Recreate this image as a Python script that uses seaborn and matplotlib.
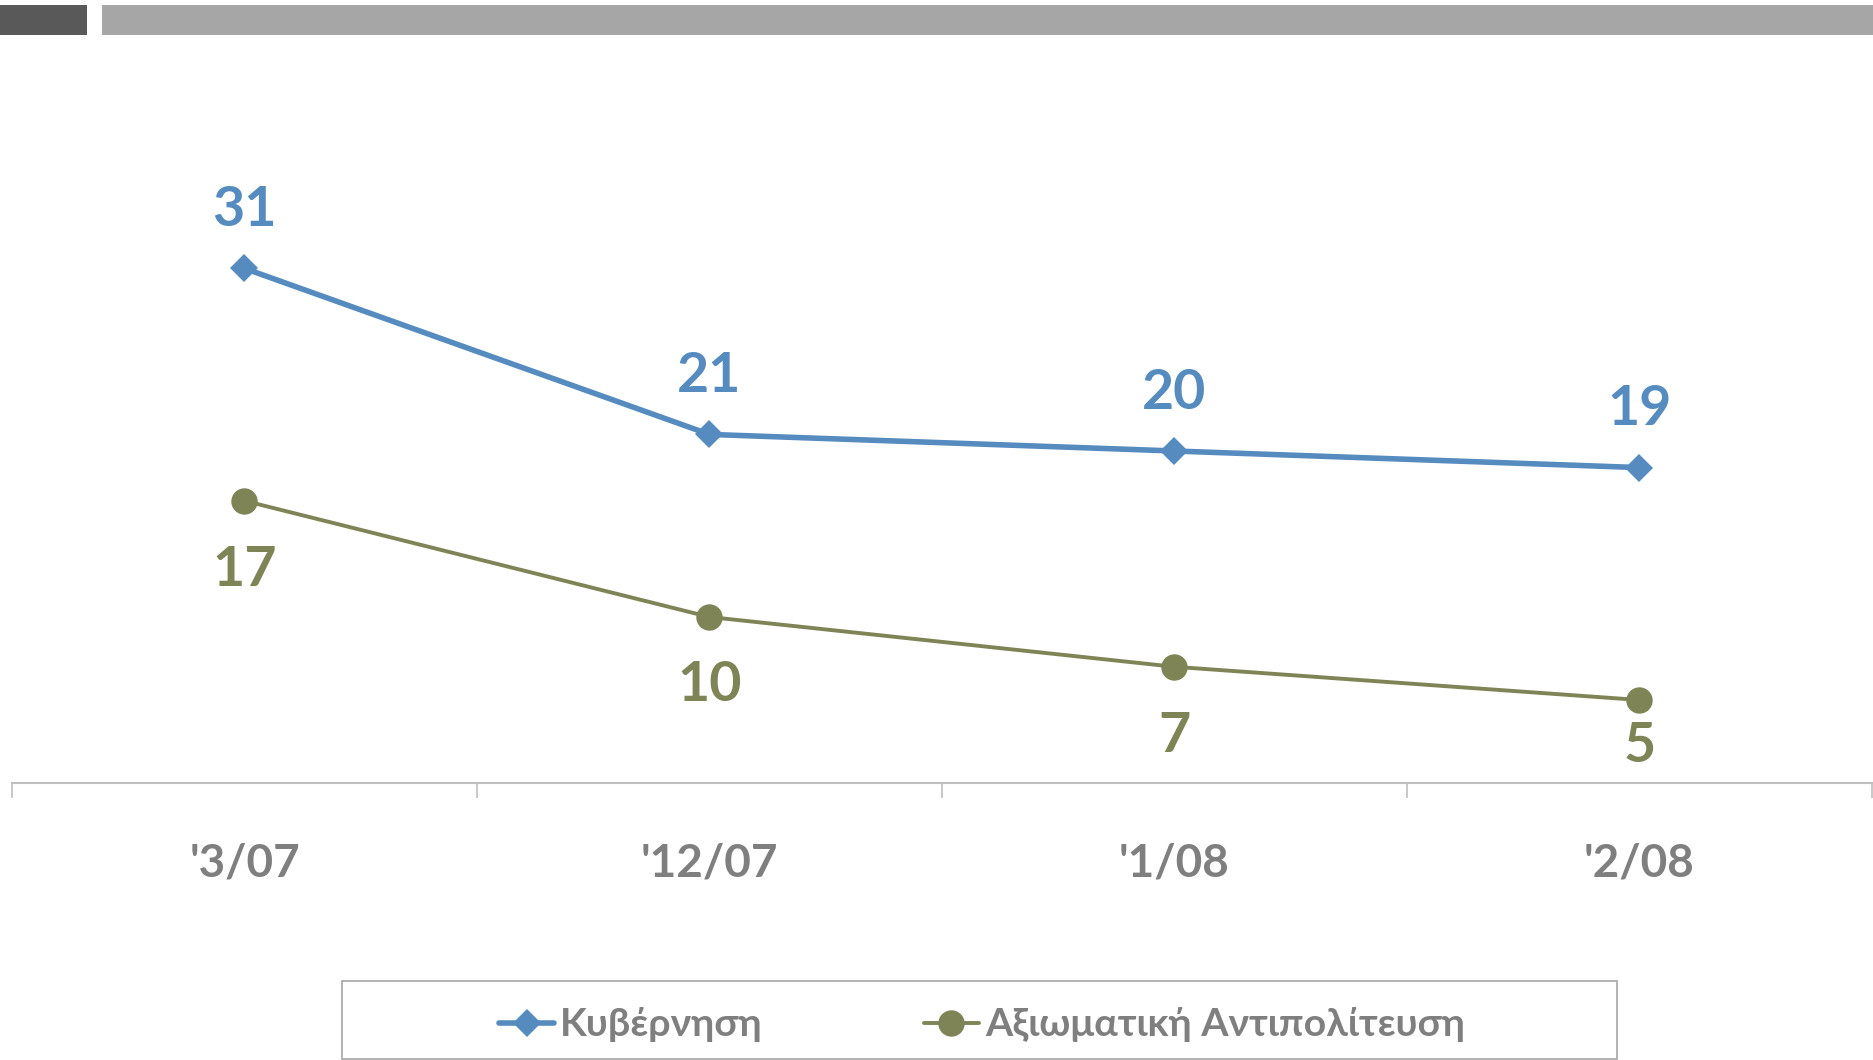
import pandas as pd
import matplotlib.pyplot as plt
import matplotlib.patches as mpatches
import seaborn as sns

# --- data ---
periods = ["'3/07", "'12/07", "'1/08", "'2/08"]
gov_name = "Κυβέρνηση"
opp_name = "Αξιωματική Αντιπολίτευση"
gov_values = [31, 21, 20, 19]
opp_values = [17, 10, 7, 5]

blue = "#558BBE"
olive = "#7F8457"
grey_text = "#7F7F7F"

df = pd.DataFrame({
    "period": periods * 2,
    "value": gov_values + opp_values,
    "series": [gov_name] * 4 + [opp_name] * 4,
})

sns.set_theme(style="white")
plt.rcParams['font.family'] = ['Lato', 'Noto Sans', 'DejaVu Sans']
plt.rcParams['font.weight'] = 'bold'

fig = plt.figure(figsize=(18.74, 10.6), dpi=100)
ax = fig.add_axes([12 / 1874, 1 - 783 / 1060, 1860 / 1874, 664 / 1060])

sns.lineplot(data=df[df.series == gov_name], x="period", y="value",
             color=blue, marker="D", ax=ax, label=gov_name)
sns.lineplot(data=df[df.series == opp_name], x="period", y="value",
             color=olive, marker="o", ax=ax, label=opp_name)

# seaborn overrides some line styling, so set it on the artists
gov_line, opp_line = ax.lines[0], ax.lines[1]
gov_line.set_linewidth(4.0)
gov_line.set_markersize(14)
gov_line.set_markeredgewidth(0)
opp_line.set_linewidth(2.8)
opp_line.set_markersize(19)
opp_line.set_markeredgewidth(0)

ax.set_xlim(-0.5, len(periods) - 0.5)
ax.set_ylim(0, 40)
ax.set_xlabel("")
ax.set_ylabel("")
ax.set_yticks([])

# category boundaries as ticks, labels on the centres
ax.set_xticks([i - 0.5 for i in range(len(periods) + 1)])
ax.set_xticklabels([])
ax.set_xticks(range(len(periods)), minor=True)
ax.set_xticklabels(periods, minor=True)
ax.tick_params(axis="x", which="major", length=11, width=1.2,
               color="#BFBFBF", direction="out", bottom=True)
ax.tick_params(axis="x", which="minor", length=0, pad=43,
               labelsize=33, labelcolor=grey_text)
for lab in ax.get_xticklabels(minor=True):
    lab.set_fontweight("bold")

for side in ["top", "right", "left"]:
    ax.spines[side].set_visible(False)
ax.spines["bottom"].set_color("#BFBFBF")
ax.spines["bottom"].set_linewidth(1.5)

# data labels
for i, v in enumerate(gov_values):
    ax.annotate(str(v), (i, v), xytext=(0, 42), textcoords="offset points",
                ha="center", va="center", fontsize=40, fontweight="bold",
                color=blue)
opp_offsets = [-50, -49, -50, -33]
for i, v in enumerate(opp_values):
    ax.annotate(str(v), (i, v), xytext=(0, opp_offsets[i]),
                textcoords="offset points", ha="center", va="center",
                fontsize=40, fontweight="bold", color=olive)

# legend inside a thin grey frame
ax.get_legend().remove()
handles, labels = ax.get_legend_handles_labels()
fig.legend(handles, labels, loc="center", ncol=2,
           bbox_to_anchor=(982 / 1874, 1 - 1025 / 1060), frameon=False,
           prop={"size": 28.3, "weight": "bold"}, labelcolor=grey_text,
           handlelength=1.4, handletextpad=0.15, columnspacing=4.1)
fig.patches.append(mpatches.Rectangle(
    (342 / 1874, 1 - 1059 / 1060), 1275 / 1874, 78 / 1060,
    transform=fig.transFigure, fill=False, edgecolor="#A6A6A6", linewidth=1.2))

# header bars
fig.patches.append(mpatches.Rectangle(
    (0, 1 - 35 / 1060), 87 / 1874, 30 / 1060, transform=fig.transFigure,
    color="#595959", linewidth=0))
fig.patches.append(mpatches.Rectangle(
    (102 / 1874, 1 - 35 / 1060), 1 - 102 / 1874, 30 / 1060,
    transform=fig.transFigure, color="#A6A6A6", linewidth=0))

plt.savefig("out.png", dpi=100, facecolor="white")
